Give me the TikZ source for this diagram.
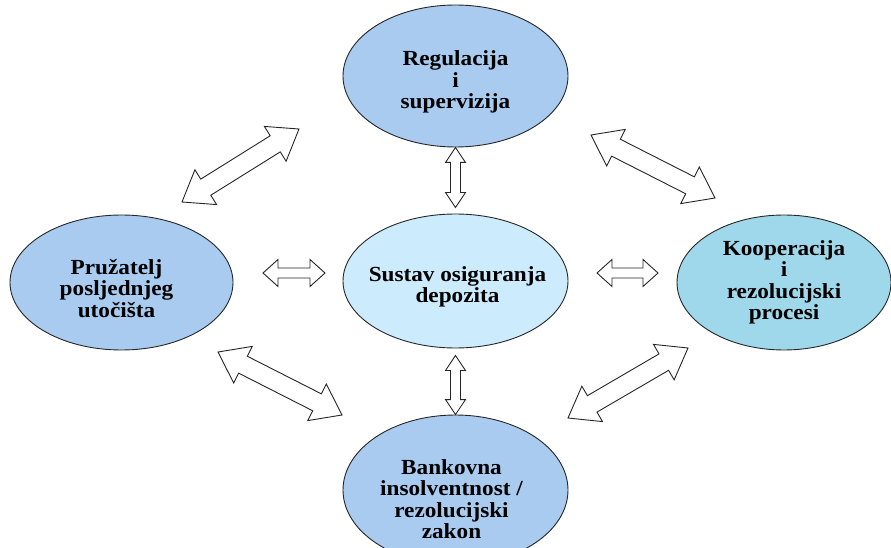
\documentclass[tikz,border=0pt]{standalone}
\usepackage{fontspec}
\setmainfont{Liberation Serif}[FakeStretch=1.08]
\usetikzlibrary{shapes.geometric,calc}
\definecolor{ellBlue}{HTML}{A8CBEF}
\definecolor{ellCyan}{HTML}{9ED8EA}
\definecolor{ellPale}{HTML}{CCEBFC}
\newcommand{\labelSize}[0]{\fontsize{21.5}{21.5}\selectfont\bfseries}

% two-headed block arrow: name, from, to, shaft half width, head half width, head length
\newcommand{\twoWay}[6]{%
  \coordinate (#1-ha) at ($(#2)!#6!(#3)$);
  \coordinate (#1-hb) at ($(#3)!#6!(#2)$);
  \draw[blockarrow] (#2) -- ($(#1-ha)!#5!90:(#3)$) -- ($(#1-ha)!#4!90:(#3)$)
    -- ($(#1-hb)!#4!-90:(#2)$) -- ($(#1-hb)!#5!-90:(#2)$) -- (#3)
    -- ($(#1-hb)!#5!90:(#2)$) -- ($(#1-hb)!#4!90:(#2)$)
    -- ($(#1-ha)!#4!-90:(#3)$) -- ($(#1-ha)!#5!-90:(#3)$) -- cycle;
}

\begin{document}
\begin{tikzpicture}[x=1pt,y=1pt,
  ellnode/.style={ellipse,draw=black!85,line width=0.9pt,inner sep=0pt},
  ellText/.style={align=center,font=\labelSize,inner sep=0pt},
  blockarrow/.style={draw=black!85,fill=white,line width=0.9pt,line join=miter}]
  \useasboundingbox (0,0) rectangle (891,547);
  \clip (0,0) rectangle (891,547);

  % ellipses
  \node[ellnode,fill=ellBlue,minimum width=225,minimum height=142] (reg) at (455.5,471) {};
  \node[ellnode,fill=ellPale,minimum width=225,minimum height=134] (sus) at (455.5,266) {};
  \node[ellnode,fill=ellBlue,minimum width=223,minimum height=135] (lolr) at (121.5,264.5) {};
  \node[ellnode,fill=ellCyan,minimum width=214,minimum height=135] (koop) at (784,264.5) {};
  \node[ellnode,fill=ellBlue,minimum width=225,minimum height=150] (bank) at (455.5,57) {};

  % labels
  \node[ellText] (regText) at ([yshift=-6pt]reg.center) {Regulacija\\i\\supervizija};
  \node[ellText] (susText) at ([xshift=2pt,yshift=-6pt]sus.center) {Sustav osiguranja\\depozita};
  \node[ellText] (lolrText) at ([xshift=-5pt,yshift=-6pt]lolr.center) {Pružatelj\\posljednjeg\\utočišta};
  \node[ellText] (koopText) at (koop.center) {Kooperacija\\i\\rezolucijski\\procesi};
  \node[ellText] (bankText) at ([xshift=-4pt,yshift=-9pt]bank.center) {Bankovna\\insolventnost /\\rezolucijski\\zakon};

  % arrow ends
  \coordinate (susTop) at ([yshift=6pt]sus.north);
  \coordinate (susBot) at ([yshift=-7pt]sus.south);
  \coordinate (lA) at (263,274);  \coordinate (lB) at (325,274);
  \coordinate (rA) at (597,274);  \coordinate (rB) at (658,274);
  \coordinate (tlA) at (182,345); \coordinate (tlB) at (299,418);
  \coordinate (trA) at (591,412); \coordinate (trB) at (715,349);
  \coordinate (blA) at (218,195); \coordinate (blB) at (342,132);
  \coordinate (brA) at (568,129); \coordinate (brB) at (688,199);

  % arrows
  \twoWay{up}{reg.south}{susTop}{5pt}{10pt}{15pt}
  \twoWay{down}{susBot}{bank.north}{5pt}{10pt}{15pt}
  \twoWay{left}{lA}{lB}{5pt}{13.5pt}{15pt}
  \twoWay{right}{rA}{rB}{5pt}{13.5pt}{15pt}
  \twoWay{tl}{tlA}{tlB}{9.5pt}{20.5pt}{28pt}
  \twoWay{tr}{trA}{trB}{9.5pt}{20.5pt}{28pt}
  \twoWay{bl}{blA}{blB}{9.5pt}{20.5pt}{28pt}
  \twoWay{br}{brA}{brB}{9.5pt}{20.5pt}{28pt}
\end{tikzpicture}
\end{document}
